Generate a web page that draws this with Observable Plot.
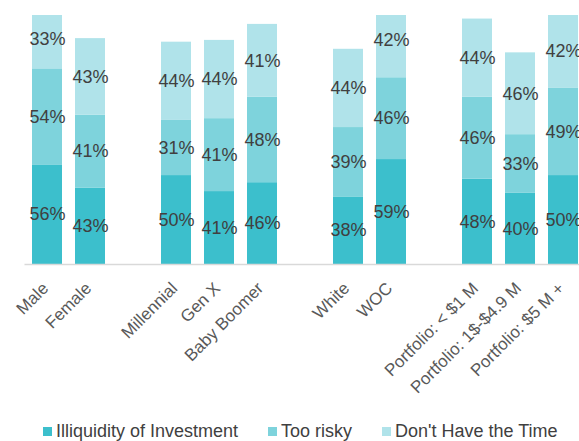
<!DOCTYPE html>
<html>
<head>
<meta charset="utf-8">
<script src="https://cdn.jsdelivr.net/npm/d3@7"></script>
<script src="https://cdn.jsdelivr.net/npm/@observablehq/plot@0.6"></script>
<style>
  html, body { margin: 0; padding: 0; background: #fff; overflow: hidden; width: 579px; height: 441px; }
  #chart svg { display: block; max-width: none; }
  .legend { position: absolute; left: 0; top: 421px; width: 579px; height: 20px; font-family: "Liberation Sans", Arial, sans-serif; font-size: 18px; color: #404040; line-height: 20px; }
  .legend span.item { position: absolute; top: 0; white-space: nowrap; }
  .legend span.sw { display: inline-block; width: 9px; height: 9px; margin-right: 4px; vertical-align: 1px; }
</style>
</head>
<body>
<div id="chart"></div>
<div class="legend" id="legend"></div>
<script>
const categories = ["Male", "Female", " ", "Millennial", "Gen X", "Baby Boomer", "  ", "White", "WOC", "   ", "Portfolio: < $1 M", "Portfolio: 1$-$4.9 M", "Portfolio: $5 M +"];
const groups = ["Male", "Female", "Millennial", "Gen X", "Baby Boomer", "White", "WOC", "Portfolio: < $1 M", "Portfolio: 1$-$4.9 M", "Portfolio: $5 M +"];
const seriesNames = ["Illiquidity of Investment", "Too risky", "Don't Have the Time"];
const illiquidity = [56, 43, 50, 41, 46, 38, 59, 48, 40, 50];
const tooRisky    = [54, 41, 31, 41, 48, 39, 46, 46, 33, 49];
const noTime      = [33, 43, 44, 44, 41, 44, 42, 44, 46, 42];
const colors = ["#3cbfcc", "#7ed3dc", "#b0e3ea"];

const seriesValues = [illiquidity, tooRisky, noTime];
const data = [];
groups.forEach((g, i) => {
  seriesNames.forEach((s, j) => {
    data.push({group: g, series: s, value: seriesValues[j][i]});
  });
});

const chart = Plot.plot({
  width: 579,
  height: 422,
  marginLeft: 24.5,
  marginRight: -6,
  marginTop: 15,
  marginBottom: 158,
  style: {fontFamily: "'Liberation Sans', Arial, sans-serif", background: "#fff"},
  x: {domain: categories, paddingInner: 0.3, paddingOuter: 0.15, axis: null},
  y: {domain: [0, 140], axis: null},
  color: {domain: seriesNames, range: colors},
  marks: [
    Plot.barY(data, {x: "group", y: "value", fill: "series", z: "series", clip: true}),
    Plot.ruleY([0], {stroke: "#d9d9d9", strokeWidth: 1.5}),
    Plot.text(data, Plot.stackY({x: "group", y: "value", z: "series", text: d => d.value + "%", fill: "#404040", fontSize: 18})),
    Plot.text(groups, {x: d => d, frameAnchor: "bottom", dy: 21, dx: -2, rotate: -45, textAnchor: "end", lineAnchor: "middle", fontSize: 17, fill: "#595959", text: d => d, ariaLabel: "xlabels"})
  ]
});
// slight horizontal stretch of the rotated category labels, as in the reference
chart.querySelectorAll('g[aria-label="xlabels"] text').forEach(t => {
  const tr = t.getAttribute("transform");
  if (tr && tr.includes("rotate")) t.setAttribute("transform", tr.replace("rotate", "scale(1.18,1) rotate"));
});
document.getElementById("chart").appendChild(chart);

const legend = document.getElementById("legend");
const legendX = [43, 268, 382];
seriesNames.forEach((s, i) => {
  const item = document.createElement("span");
  item.className = "item";
  item.style.left = legendX[i] + "px";
  const sw = document.createElement("span");
  sw.className = "sw";
  sw.style.background = colors[i];
  item.appendChild(sw);
  item.appendChild(document.createTextNode(s));
  legend.appendChild(item);
});
</script>
</body>
</html>
